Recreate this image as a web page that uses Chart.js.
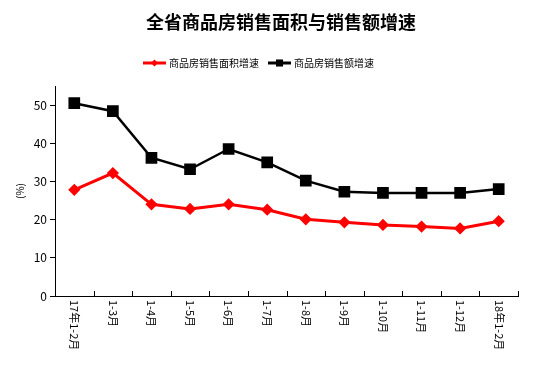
<!DOCTYPE html>
<html>
<head>
<meta charset="utf-8">
<script src="https://cdn.jsdelivr.net/npm/chart.js@4/dist/chart.umd.min.js"></script>
<style>
  html, body { margin: 0; padding: 0; background: #fff; }
  #wrap { width: 554px; height: 377px; }
</style>
</head>
<body>
<div id="wrap"><canvas id="myChart"></canvas></div>
<script>
// 数据
var months = ['17年1-2月', '1-3月', '1-4月', '1-5月', '1-6月', '1-7月', '1-8月', '1-9月', '1-10月', '1-11月', '1-12月', '18年1-2月'];
var areaGrowth = [27.8, 32.2, 24.0, 22.8, 24.0, 22.6, 20.1, 19.3, 18.6, 18.2, 17.7, 19.6];
var salesGrowth = [50.5, 48.4, 36.2, 33.2, 38.5, 35.0, 30.2, 27.3, 27.0, 27.0, 27.0, 28.0];
var yTicks = [0, 10, 20, 30, 40, 50];
var titleText = '全省商品房销售面积与销售额增速';
var areaLabel = '商品房销售面积增速';
var salesLabel = '商品房销售额增速';

var FONT = '"Noto Sans CJK SC", "DejaVu Sans", sans-serif';

// 标题、图例、x轴标签和刻度线
var decorPlugin = {
    id: 'decor',
    afterDraw: function (chart) {
        var ctx = chart.ctx;
        var area = chart.chartArea;
        var xs = chart.scales.x;
        ctx.save();

        // 标题
        ctx.fillStyle = '#000';
        ctx.font = 'bold 18px ' + FONT;
        ctx.textAlign = 'center';
        ctx.textBaseline = 'middle';
        ctx.fillText(titleText, 281, 22);

        // 图例
        ctx.font = '10px ' + FONT;
        ctx.textAlign = 'left';
        var items = [
            { x: 143, color: '#ff0000', style: 'rectRot', r: 3.5, text: areaLabel },
            { x: 268, color: '#000000', style: 'rect', r: 5, text: salesLabel }
        ];
        items.forEach(function (it) {
            ctx.strokeStyle = it.color;
            ctx.lineWidth = 3;
            ctx.beginPath();
            ctx.moveTo(it.x, 63);
            ctx.lineTo(it.x + 23, 63);
            ctx.stroke();
            ctx.fillStyle = it.color;
            Chart.helpers.drawPoint(ctx, { pointStyle: it.style, radius: it.r, borderWidth: 0 }, it.x + 11.5, 63);
            ctx.fillStyle = '#000';
            ctx.fillText(it.text, it.x + 26, 63);
        });

        // x轴刻度线（向上）
        ctx.strokeStyle = '#000';
        ctx.lineWidth = 1;
        for (var i = 0; i <= months.length; i++) {
            var gx;
            if (i === 0) gx = area.left;
            else if (i === months.length) gx = area.right;
            else gx = (xs.getPixelForTick(i - 1) + xs.getPixelForTick(i)) / 2;
            gx = Math.round(gx) + 0.5;
            ctx.beginPath();
            ctx.moveTo(gx, area.bottom);
            ctx.lineTo(gx, area.bottom - 5);
            ctx.stroke();
        }

        // x轴标签（顺时针旋转90度）
        ctx.fillStyle = '#000';
        ctx.font = '11px ' + FONT;
        ctx.textAlign = 'left';
        ctx.textBaseline = 'middle';
        months.forEach(function (m, idx) {
            var px = xs.getPixelForTick(idx);
            ctx.save();
            ctx.translate(px, area.bottom + 4);
            ctx.rotate(Math.PI / 2);
            ctx.fillText(m, 0, 0);
            ctx.restore();
        });
        ctx.restore();
    }
};

var ctx = document.getElementById('myChart').getContext('2d');

var myChart = new Chart(ctx, {
    type: 'line',
    data: {
        labels: months,
        datasets: [{
            label: areaLabel,
            data: areaGrowth,
            borderColor: '#ff0000',
            backgroundColor: '#ff0000',
            borderWidth: 3,
            pointStyle: 'rectRot',
            pointRadius: 4,
            pointHoverRadius: 4,
            tension: 0
        }, {
            label: salesLabel,
            data: salesGrowth,
            borderColor: '#000000',
            backgroundColor: '#000000',
            borderWidth: 2.5,
            pointStyle: 'rect',
            pointRadius: 6.5,
            pointHoverRadius: 6.5,
            tension: 0
        }]
    },
    options: {
        responsive: true,
        maintainAspectRatio: false,
        animation: false,
        layout: {
            padding: { top: 86, right: 36, left: 0, bottom: 0 }
        },
        scales: {
            x: {
                offset: true,
                grid: { display: false, drawTicks: false },
                border: { display: true, color: '#000', width: 1 },
                ticks: { display: false },
                afterFit: function (scale) { scale.width = scale.width; scale.height = 81; }
            },
            y: {
                min: 0,
                max: 55,
                afterBuildTicks: function (axis) {
                    axis.ticks = yTicks.map(function (v) { return { value: v }; });
                },
                grid: { drawOnChartArea: false, tickLength: 5, color: '#000' },
                border: { display: true, color: '#000', width: 1 },
                ticks: {
                    color: '#000',
                    font: { family: FONT, size: 12 },
                    padding: 3
                },
                title: {
                    display: true,
                    text: '(%)',
                    color: '#000',
                    font: { family: FONT, size: 10 },
                    padding: { top: 14, bottom: 0 }
                },
                afterFit: function (scale) { scale.width = 55; }
            }
        },
        plugins: {
            legend: { display: false },
            title: { display: false },
            tooltip: { enabled: false }
        }
    },
    plugins: [decorPlugin]
});
</script>
</body>
</html>
